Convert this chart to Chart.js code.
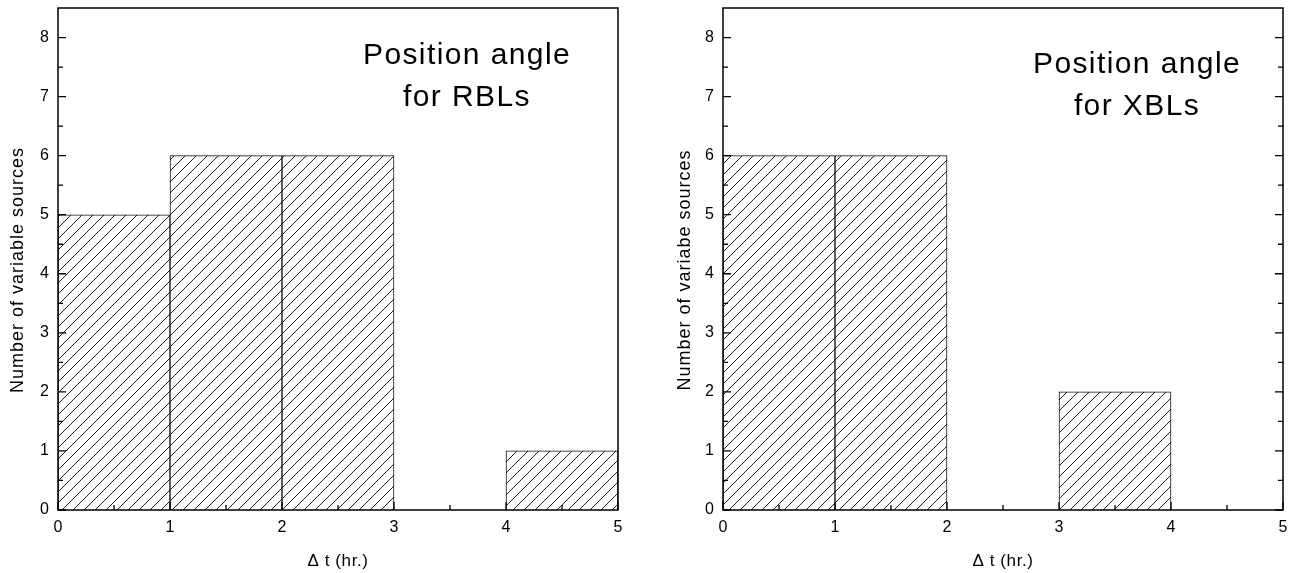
<!DOCTYPE html>
<html>
<head>
<meta charset="utf-8">
<script src="https://cdn.jsdelivr.net/npm/chart.js@4.4.0/dist/chart.umd.min.js"></script>
<style>
  html, body { margin: 0; padding: 0; background: #fff; }
  .panel { position: absolute; top: 0; height: 573px; }
  #left { left: 0; width: 645px; }
  #right { left: 645px; width: 644px; }
</style>
</head>
<body>
<div class="panel" id="left"><canvas id="rbl"></canvas></div>
<div class="panel" id="right"><canvas id="xbl"></canvas></div>
<script>
// histogram bins of delta t (hr.)
const bins = ['0-1', '1-2', '2-3', '3-4', '4-5'];
const rblCounts = [5, 6, 6, 0, 1];
const xblCounts = [6, 6, 0, 2, 0];
const xTicks = [0, 1, 2, 3, 4, 5];
const yTicks = [0, 1, 2, 3, 4, 5, 6, 7, 8];
const yMax = 8.5;

const FONT = "'Liberation Sans', Arial, Helvetica, sans-serif";

// diagonal hatch fill for the bars
function makeHatch(ctx) {
  const c = document.createElement('canvas');
  c.width = 11; c.height = 11;
  const g = c.getContext('2d');
  g.fillStyle = '#fff';
  g.fillRect(0, 0, 11, 11);
  g.strokeStyle = '#222';
  g.lineWidth = 1;
  g.beginPath();
  g.moveTo(-1, 12); g.lineTo(12, -1);
  g.moveTo(-1, 1); g.lineTo(1, -1);
  g.moveTo(10, 12); g.lineTo(12, 10);
  g.stroke();
  return ctx.createPattern(c, 'repeat');
}

// box around the plot + inward ticks
const framePlugin = {
  id: 'frame',
  afterDatasetsDraw(chart, args, opts) {
    const { ctx, chartArea: a, scales } = chart;
    const x = scales.x, y = scales.y;
    ctx.save();
    ctx.strokeStyle = '#000';
    ctx.lineWidth = 1.5;
    ctx.strokeRect(a.left, a.top, a.right - a.left, a.bottom - a.top);
    ctx.lineWidth = 1.3;
    ctx.beginPath();
    yTicks.forEach(v => {
      const p = y.getPixelForValue(v);
      ctx.moveTo(a.left, p); ctx.lineTo(a.left + 8, p);
      if (opts.rightTicks) { ctx.moveTo(a.right, p); ctx.lineTo(a.right - 8, p); }
      if (v + 0.5 < yMax) {
        const m = y.getPixelForValue(v + 0.5);
        ctx.moveTo(a.left, m); ctx.lineTo(a.left + 5, m);
        if (opts.rightTicks) { ctx.moveTo(a.right, m); ctx.lineTo(a.right - 5, m); }
      }
    });
    xTicks.forEach((v, i) => {
      const p = x.getPixelForValue(v);
      ctx.moveTo(p, a.bottom); ctx.lineTo(p, a.bottom - 8);
      if (i < xTicks.length - 1) {
        const m = x.getPixelForValue(v + 0.5);
        ctx.moveTo(m, a.bottom); ctx.lineTo(m, a.bottom - 5);
      }
    });
    ctx.stroke();
    ctx.restore();
  }
};

// axis titles and the note in the corner
const textPlugin = {
  id: 'texts',
  afterDraw(chart, args, opts) {
    const { ctx, chartArea: a } = chart;
    ctx.save();
    ctx.fillStyle = '#000';
    ctx.textAlign = 'center';

    ctx.font = '18px ' + FONT;
    ctx.letterSpacing = '1px';
    ctx.textBaseline = 'middle';
    ctx.save();
    ctx.translate(opts.yTitleX, (a.top + a.bottom) / 2 + 11);
    ctx.rotate(-Math.PI / 2);
    ctx.fillText(opts.yTitle, 0, 0);
    ctx.restore();

    ctx.font = '17px ' + FONT;
    ctx.letterSpacing = '0.6px';
    ctx.fillText('\u0394 t (hr.)', (a.left + a.right) / 2, 561);

    ctx.font = '30px ' + FONT;
    ctx.letterSpacing = '1.4px';
    ctx.textBaseline = 'alphabetic';
    opts.note.forEach((line, i) => {
      ctx.fillText(line, a.left + opts.noteX, opts.noteY + i * 42);
    });
    ctx.restore();
  }
};

function createChart(id, counts, cfg) {
  const canvas = document.getElementById(id);
  const ctx = canvas.getContext('2d');
  const tickFont = { family: FONT, size: 16 };
  new Chart(canvas, {
    type: 'bar',
    data: {
      labels: bins,
      datasets: [{
        data: counts,
        xAxisID: 'xc',
        backgroundColor: makeHatch(ctx),
        borderColor: '#111',
        borderWidth: 1,
        barPercentage: 1,
        categoryPercentage: 1
      }]
    },
    options: {
      responsive: true,
      maintainAspectRatio: false,
      animation: false,
      layout: { padding: { top: 8, right: cfg.padRight, left: 0, bottom: 0 } },
      plugins: {
        legend: { display: false },
        tooltip: { enabled: false },
        frame: { rightTicks: cfg.rightTicks },
        texts: { yTitle: cfg.yTitle, yTitleX: cfg.yTitleX, note: cfg.note, noteX: cfg.noteX, noteY: cfg.noteY }
      },
      scales: {
        xc: { type: 'category', display: false, offset: true },
        x: {
          type: 'linear', position: 'bottom', min: 0, max: 5, offset: false,
          afterBuildTicks: s => { s.ticks = xTicks.map(v => ({ value: v })); },
          afterFit: s => { s.height = 63; s.paddingLeft = 0; s.paddingRight = 0; },
          grid: { display: false, drawTicks: false },
          border: { display: false },
          ticks: { padding: 8, color: '#000', font: tickFont, maxRotation: 0 }
        },
        y: {
          min: 0, max: yMax,
          afterBuildTicks: s => { s.ticks = yTicks.map(v => ({ value: v })); },
          afterFit: s => { s.width = cfg.axisWidth; s.paddingTop = 0; s.paddingBottom = 0; },
          grid: { display: false, drawTicks: false },
          border: { display: false },
          ticks: { padding: 9, color: '#000', font: tickFont }
        }
      }
    },
    plugins: [framePlugin, textPlugin]
  });
}

createChart('rbl', rblCounts, {
  axisWidth: 58, padRight: 27, rightTicks: false,
  yTitle: 'Number of variable sources', yTitleX: 18.5,
  note: ['Position angle', 'for RBLs'], noteX: 409, noteY: 64
});
createChart('xbl', xblCounts, {
  axisWidth: 78, padRight: 6, rightTicks: true,
  yTitle: 'Number of variabe sources', yTitleX: 40,
  note: ['Position angle', 'for XBLs'], noteX: 414, noteY: 73
});
</script>
</body>
</html>
